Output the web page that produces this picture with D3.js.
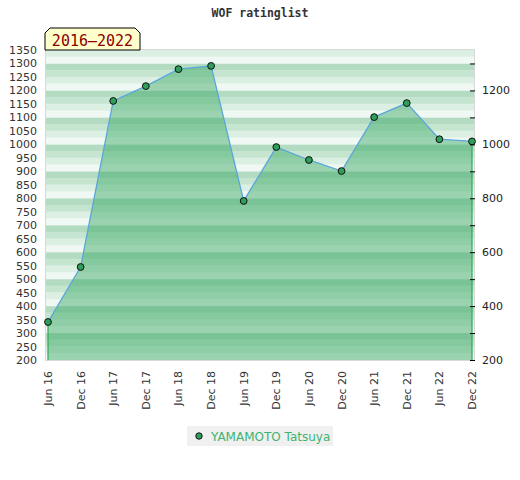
<!DOCTYPE html>
<html>
<head>
<meta charset="utf-8">
<script src="https://cdn.jsdelivr.net/npm/d3@7"></script>
<style>
  body { margin: 0; background: #fff; }
  svg text { font-family: "DejaVu Sans", sans-serif; }
</style>
</head>
<body>
<div id="chart"></div>
<script>
// rating history
var periods = ["Jun 16", "Dec 16", "Jun 17", "Dec 17", "Jun 18", "Dec 18", "Jun 19",
               "Dec 19", "Jun 20", "Dec 20", "Jun 21", "Dec 21", "Jun 22", "Dec 22"];
var ratings = [341, 545, 1161, 1216, 1279, 1291, 790, 990, 942, 901, 1101, 1153, 1019, 1011];
var leftTicks = d3.range(200, 1351, 50);
var rightTicks = d3.range(200, 1301, 100);
var player = "YAMAMOTO Tatsuya";
var title = "WOF ratinglist";
var span = "2016\u20132022";

var width = 520, height = 480;
var plotL = 46, plotR = 474, plotT = 50, plotB = 360;

// stripe colours, by position inside each 100 block (bottom to top)
var bandColors = ["#eff8f2", "#dbefe2", "#c6e5d1", "#b2dbc1"];

var svg = d3.select("#chart").append("svg")
  .attr("width", width)
  .attr("height", height);

var x = d3.scalePoint().domain(periods).range([48, 472]);
var y = d3.scaleLinear().domain([200, 1350]).range([plotB, plotT]);

// background stripes
var bands = d3.range(200, 1350, 25);
svg.append("g").selectAll("rect")
  .data(bands)
  .enter().append("rect")
  .attr("x", plotL)
  .attr("width", plotR - plotL)
  .attr("y", function(d) { return y(d + 25) })
  .attr("height", function(d) { return y(d) - y(d + 25) })
  .attr("fill", function(d) { return bandColors[((d % 100) / 25)] });

// plot frame
svg.append("rect")
  .attr("x", plotL - 0.5).attr("y", plotT - 0.5)
  .attr("width", plotR - plotL + 1).attr("height", plotB - plotT + 1)
  .attr("fill", "none").attr("stroke", "#d8d8d8");

var area = d3.area()
  .x(function(d, i) { return x(periods[i]) })
  .y0(y(200))
  .y1(function(d) { return y(d) });

svg.append("path")
  .datum(ratings)
  .attr("d", area)
  .attr("fill", "rgb(54,166,97)")
  .attr("fill-opacity", 0.45)
  .attr("stroke", "none");

// green edges at both ends
[0, ratings.length - 1].forEach(function(i) {
  svg.append("line")
    .attr("x1", x(periods[i])).attr("x2", x(periods[i]))
    .attr("y1", y(ratings[i])).attr("y2", y(200))
    .attr("stroke", "#2eaa55").attr("stroke-width", 1.2);
});

var line = d3.line()
  .x(function(d, i) { return x(periods[i]) })
  .y(function(d) { return y(d) });

svg.append("path")
  .datum(ratings)
  .attr("d", line)
  .attr("fill", "none")
  .attr("stroke", "#5aa6dc")
  .attr("stroke-width", 1.3);

svg.append("g").selectAll("circle")
  .data(ratings)
  .enter().append("circle")
  .attr("cx", function(d, i) { return x(periods[i]) })
  .attr("cy", function(d) { return y(d) })
  .attr("r", 3.4)
  .attr("fill", "#2e9e5a")
  .attr("stroke", "#111")
  .attr("stroke-width", 1);

// left axis labels
svg.append("g").selectAll("text")
  .data(leftTicks)
  .enter().append("text")
  .attr("x", 37)
  .attr("y", function(d) { return y(d) + 4 })
  .attr("text-anchor", "end")
  .attr("font-size", 11)
  .attr("fill", "#333")
  .text(function(d) { return d });

// right axis: tick every 100, label every 200
var rightAxis = d3.axisRight(y)
  .tickValues(rightTicks)
  .tickSize(4)
  .tickFormat(function(d) { return d % 200 === 0 ? d : "" });

var ra = svg.append("g")
  .attr("transform", "translate(" + (plotR - 2) + ",0)")
  .call(rightAxis);
ra.select(".domain").remove();
ra.selectAll(".tick line").attr("stroke", "#000").attr("x1", -2).attr("x2", 3);
ra.selectAll(".tick text")
  .attr("x", 10)
  .attr("font-size", 11)
  .attr("font-family", "DejaVu Sans, sans-serif")
  .attr("fill", "#222");

// x labels, rotated
svg.append("g").selectAll("text")
  .data(periods)
  .enter().append("text")
  .attr("transform", function(d) { return "translate(" + (x(d) + 4) + "," + 371 + ") rotate(-90)" })
  .attr("text-anchor", "end")
  .attr("font-size", 11)
  .attr("fill", "#333")
  .text(function(d) { return d });

// title
svg.append("text")
  .attr("x", 260).attr("y", 17)
  .attr("text-anchor", "middle")
  .attr("font-size", 11.5)
  .attr("font-weight", "bold")
  .style("font-family", "DejaVu Sans Mono, monospace")
  .attr("fill", "#333")
  .text(title);

// period tag with clipped top corners
var tx0 = 45, tx1 = 140, ty0 = 28, ty1 = 50, c = 5;
svg.append("path")
  .attr("d", "M" + tx0 + "," + ty1 + "L" + tx0 + "," + (ty0 + c) + "L" + (tx0 + c) + "," + ty0 +
             "L" + (tx1 - c) + "," + ty0 + "L" + tx1 + "," + (ty0 + c) + "L" + tx1 + "," + ty1 + "Z")
  .attr("fill", "#ffffcc")
  .attr("stroke", "#000")
  .attr("stroke-width", 1);

svg.append("text")
  .attr("x", (tx0 + tx1) / 2).attr("y", 46)
  .attr("text-anchor", "middle")
  .attr("font-size", 15)
  .style("font-family", "DejaVu Sans Mono, monospace")
  .attr("fill", "#8b0000")
  .text(span);

// legend
var lg = svg.append("g");
lg.append("rect")
  .attr("x", 187).attr("y", 426).attr("width", 146).attr("height", 20)
  .attr("fill", "#f0f0f0");
lg.append("circle")
  .attr("cx", 199).attr("cy", 436).attr("r", 3.2)
  .attr("fill", "#2e9e5a").attr("stroke", "#111");
lg.append("text")
  .attr("x", 211).attr("y", 440.5)
  .attr("font-size", 12)
  .attr("fill", "#3cb371")
  .text(player);
</script>
</body>
</html>
